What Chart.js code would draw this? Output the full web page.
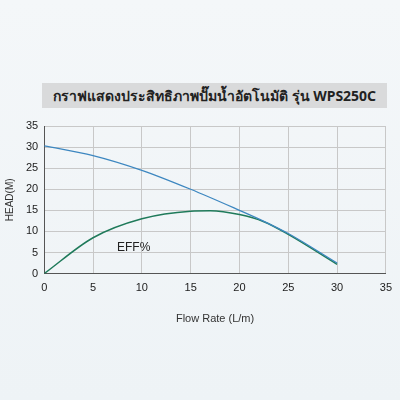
<!DOCTYPE html>
<html><head><meta charset="utf-8">
<script src="https://cdn.jsdelivr.net/npm/chart.js@4"></script>
<style>
body{margin:0;background:#fff;}
#wrap{position:relative;width:400px;height:400px;background:linear-gradient(#f4f7f9,#eef3f6);}
#title{position:absolute;left:42px;top:83px;width:345px;height:25px;background:#d9dadb;font:bold 14px "Noto Sans",sans-serif;color:#222;text-align:center;line-height:25px;}
#eff{position:absolute;left:117px;top:240px;font:12px "Liberation Sans",sans-serif;color:#222;}
canvas{position:absolute;left:0;top:0;}
</style></head><body>
<div id="wrap"><div id="title">กราฟแสดงประสิทธิภาพปั๊มน้ำอัตโนมัติ รุ่น WPS250C</div>
<canvas id="c" width="400" height="400"></canvas><div id="eff">EFF%</div></div>
<script>
const flowHead=[0,5,10,15,20,22.5,25,30];
const head=[30.3,28,24.5,20,15,12.4,9.5,2.5];
const flowEff=[0,5,10,15,17,20,22.5,25,30];
const eff=[0,8.5,13,14.8,14.9,14,12.3,9.3,2.2];
const xTicks=[0,5,10,15,20,25,30,35];
const yTicks=[0,5,10,15,20,25,30,35];
new Chart(document.getElementById('c'),{type:'scatter',
data:{datasets:[
{data:flowHead.map((x,i)=>({x,y:head[i]})),showLine:true,borderColor:'#3d87c0',borderWidth:1.3,pointRadius:0,cubicInterpolationMode:'monotone'},
{data:flowEff.map((x,i)=>({x,y:eff[i]})),showLine:true,borderColor:'#1f7a5a',borderWidth:1.5,pointRadius:0,cubicInterpolationMode:'monotone'}]},
options:{responsive:false,animation:false,
layout:{padding:{left:0,right:13,top:126,bottom:70}},
plugins:{legend:{display:false},tooltip:{enabled:false}},
scales:{
x:{type:'linear',min:0,max:35,afterBuildTicks:a=>{a.ticks=xTicks.map(v=>({value:v}))},
 grid:{color:'#c8c8c8',drawTicks:false},border:{color:'#555'},
 ticks:{color:'#222',font:{size:11,family:'Liberation Sans'},padding:8},
 title:{display:true,text:'Flow Rate (L/m)',color:'#333',font:{size:11,family:'Liberation Sans'},padding:{top:10}}},
y:{min:0,max:35,afterBuildTicks:a=>{a.ticks=yTicks.map(v=>({value:v}))},
 grid:{color:'#c8c8c8',drawTicks:false},border:{color:'#555'},
 ticks:{color:'#222',font:{size:11,family:'Liberation Sans'},padding:6},
 title:{display:true,text:'HEAD(M)',color:'#333',font:{size:10,family:'Liberation Sans'},padding:{bottom:4}}}}}});
</script></body></html>
